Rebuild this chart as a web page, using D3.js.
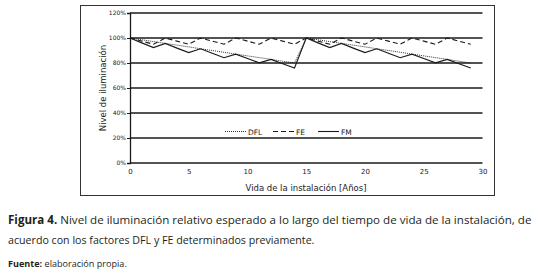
<!DOCTYPE html>
<html><head><meta charset="utf-8">
<script src="https://cdn.jsdelivr.net/npm/d3@7"></script>
<style>body{margin:0;background:#fff}svg{display:block}</style>
</head><body>
<svg id="c" width="540" height="277"></svg>
<script>
const years = [0,1,2,3,4,5,6,7,8,9,10,11,12,13,14,15,16,17,18,19,20,21,22,23,24,25,26,27,28,29];
const DFL = [100,98.6,97.1,95.7,94.3,92.9,91.4,90.0,88.6,87.1,85.7,84.3,82.9,81.4,80.0,
             100,98.6,97.1,95.7,94.3,92.9,91.4,90.0,88.6,87.1,85.7,84.3,82.9,81.4,80.0];
const FE  = [100,97.5,95,100,97.5,95,100,97.5,95,100,97.5,95,100,97.5,95,
             100,97.5,95,100,97.5,95,100,97.5,95,100,97.5,95,100,97.5,95];
const FM  = [100,96.1,92.3,95.7,91.9,88.3,91.4,87.8,84.2,87.1,83.6,80.1,82.9,79.4,76.0,
             100,96.1,92.3,95.7,91.9,88.3,91.4,87.8,84.2,87.1,83.6,80.1,82.9,79.4,76.0];
const xTicks = [0,5,10,15,20,25,30];
const yTicks = [0,20,40,60,80,100,120];
const seriesNames = ["DFL","FE","FM"];

const svg = d3.select("#c");
const x = d3.scaleLinear().domain([0,30]).range([130,482.5]);
const y = d3.scaleLinear().domain([0,120]).range([163,13]);
const ink = "#1a1a1a";

// outer frame
svg.append("rect").attr("x",80.5).attr("y",5.5).attr("width",414).attr("height",190)
  .attr("fill","none").attr("stroke","#333").attr("stroke-width",1);

// gridlines
svg.append("g").selectAll("line").data(yTicks).join("line")
  .attr("x1",x(0)).attr("x2",x(30)).attr("y1",d=>y(d)).attr("y2",d=>y(d))
  .attr("stroke",ink).attr("stroke-width",1.3);

// y axis
const yAxis = d3.axisLeft(y).tickValues(yTicks).tickFormat(d=>d+"%").tickSize(3).tickPadding(1);
const ga = svg.append("g").attr("transform",`translate(${x(0)},0)`).call(yAxis);
ga.select(".domain").attr("stroke",ink).attr("stroke-width",1.3);
ga.selectAll(".tick line").attr("stroke",ink);
ga.selectAll("text").attr("font-family","DejaVu Sans").attr("font-size",6).attr("fill","#222");

// x axis
const xAxis = d3.axisBottom(x).tickValues(xTicks).tickSize(0).tickPadding(6);
const gx = svg.append("g").attr("transform",`translate(0,${y(0)})`).call(xAxis);
gx.select(".domain").remove();
gx.selectAll("text").attr("font-family","DejaVu Sans").attr("font-size",7).attr("fill","#222");

// titles
svg.append("text").attr("x",306).attr("y",191).attr("text-anchor","middle")
  .attr("font-family","DejaVu Sans").attr("font-size",8.5).attr("fill","#222")
  .text("Vida de la instalación [Años]");
svg.append("text").attr("transform","translate(106,88) rotate(-90)").attr("text-anchor","middle")
  .attr("font-family","DejaVu Sans").attr("font-size",8.5).attr("fill","#222")
  .text("Nivel de iluminación");

// lines
const styles = {DFL:{dash:"1,1",w:0.9}, FE:{dash:"5,3",w:1.1}, FM:{dash:null,w:1.1}};
const dataMap = {DFL, FE, FM};
const line = d3.line().x(d=>x(d[0])).y(d=>y(d[1]));
seriesNames.forEach(n=>{
  svg.append("path").datum(years.map((t,i)=>[t,dataMap[n][i]]))
    .attr("d",line).attr("fill","none").attr("stroke",ink)
    .attr("stroke-width",styles[n].w).attr("stroke-dasharray",styles[n].dash);
});

// legend
const legX = [225,273,318];
const lg = svg.append("g");
seriesNames.forEach((n,i)=>{
  lg.append("line").attr("x1",legX[i]).attr("x2",legX[i]+21).attr("y1",131.5).attr("y2",131.5)
    .attr("stroke",ink).attr("stroke-width",styles[n].w).attr("stroke-dasharray",styles[n].dash);
  lg.append("text").attr("x",legX[i]+23).attr("y",134.5)
    .attr("font-family","DejaVu Sans").attr("font-size",7.5).attr("fill","#222").text(n);
});

// caption: fit font size to target width
function fitText(sel, target, base){
  sel.attr("font-size", base);
  const len = sel.node().getComputedTextLength();
  sel.attr("font-size", base * target / len);
}
const cap = svg.append("text").attr("x",8).attr("y",224).attr("font-family","Open Sans")
  .attr("fill","#231f20");
cap.append("tspan").attr("font-weight","bold").text("Figura 4.");
cap.append("tspan").text(" Nivel de iluminación relativo esperado a lo largo del tiempo de vida de la instalación, de");
fitText(cap, 524, 12);
const cap2 = svg.append("text").attr("x",8).attr("y",244).attr("font-family","Open Sans")
  .attr("fill","#231f20")
  .text("acuerdo con los factores DFL y FE determinados previamente.");
fitText(cap2, 307, 12);
const f = svg.append("text").attr("x",8).attr("y",267).attr("font-family","Open Sans")
  .attr("fill","#231f20");
f.append("tspan").attr("font-weight","bold").text("Fuente:");
f.append("tspan").text(" elaboración propia.");
fitText(f, 119, 9.5);
</script>
</body></html>
